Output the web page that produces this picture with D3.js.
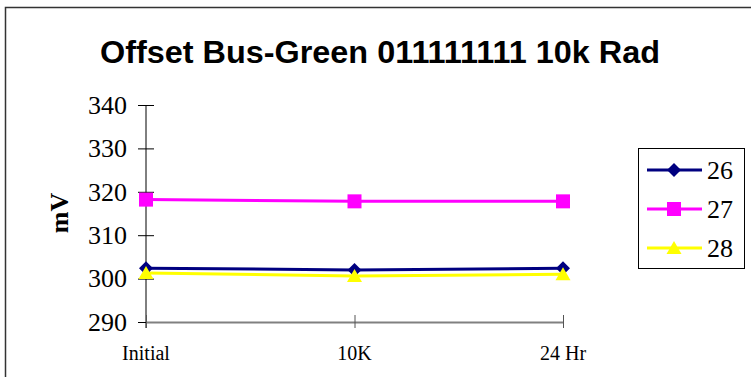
<!DOCTYPE html>
<html><head><meta charset="utf-8">
<script src="https://cdn.jsdelivr.net/npm/d3@7"></script>
<style>body{margin:0;background:#fff}svg{display:block}
.serif{font-family:"Liberation Serif","Times New Roman",Times,serif}</style>
</head><body>
<svg id="c" width="751" height="377"></svg>
<script>
const title = "Offset Bus-Green 011111111 10k Rad";
const categories = ["Initial", "10K", "24 Hr"];
const seriesNames = ["26", "27", "28"];
const s26 = [302.4, 302.0, 302.4];
const s27 = [318.2, 317.8, 317.8];
const s28 = [301.3, 300.6, 301.0];
const yTicks = [290, 300, 310, 320, 330, 340];
const yLabel = "mV";

const colors = ["#000080", "#FF00FF", "#FFFF00"];
const series = [s26, s27, s28];

const svg = d3.select("#c");
svg.append("rect").attr("x", 5.5).attr("y", 7.5).attr("width", 800).attr("height", 400)
  .attr("fill", "#fff").attr("stroke", "#333").attr("stroke-width", 1.5);

svg.append("text").attr("x", 380).attr("y", 63).attr("text-anchor", "middle")
  .attr("font-family", "Liberation Sans, Arial, sans-serif").attr("font-weight", "bold")
  .attr("font-size", 31).attr("textLength", 560).attr("lengthAdjust", "spacingAndGlyphs")
  .text(title);

const x = d3.scalePoint().domain(categories).range([146, 563]);
const y = d3.scaleLinear().domain([290, 340]).range([322, 105]);

// y axis
const yAxis = d3.axisLeft(y).tickValues(yTicks).tickSize(0).tickPadding(0);
const gy = svg.append("g").attr("transform", "translate(146,0)").call(yAxis);
gy.select(".domain").remove();
gy.selectAll(".tick text").remove();
gy.selectAll(".tick").append("line").attr("x1", -8).attr("x2", 8).attr("stroke", "#000").attr("stroke-width", 1);
svg.append("line").attr("x1", 146).attr("x2", 146).attr("y1", y(340)).attr("y2", 328).attr("stroke", "#000");
svg.append("g").selectAll("text").data(yTicks).join("text").attr("class", "serif")
  .attr("x", 127).attr("y", d => y(d) + 8.8).attr("text-anchor", "end")
  .style("font-size", "26px")
  .text(d => d);

// x axis
const xAxis = d3.axisBottom(x).tickSize(0);
const gx = svg.append("g").attr("transform", `translate(0,${y(290)})`).call(xAxis);
gx.select(".domain").attr("stroke", "#808080").attr("stroke-width", 2);
gx.selectAll(".tick text").remove();
gx.selectAll(".tick").append("line").attr("y1", -7).attr("y2", 6).attr("stroke", "#555").attr("stroke-width", 1);
svg.append("g").selectAll("text").data(categories).join("text").attr("class", "serif")
  .attr("x", d => x(d)).attr("y", 360).attr("text-anchor", "middle")
  .style("font-size", "20px")
  .text(d => d);

svg.append("text").attr("class", "serif").attr("transform", "translate(68,213) rotate(-90)").attr("text-anchor", "middle")
  .attr("font-weight", "bold").style("font-size", "26px").text(yLabel);

// markers
function marker(k) {
  if (k === 0) return "M0,-7L7,0L0,7L-7,0Z";
  if (k === 1) return "M-7,-7H7V7H-7Z";
  return "M0,-7L7.5,6L-7.5,6Z";
}

const line = d3.line().x((d, i) => x(categories[i])).y(d => y(d));
series.forEach((s, k) => {
  svg.append("path").datum(s).attr("d", line).attr("fill", "none")
    .attr("stroke", colors[k]).attr("stroke-width", 3);
});
series.forEach((s, k) => {
  svg.append("g").selectAll("path").data(s).join("path")
    .attr("transform", (d, i) => `translate(${x(categories[i])},${y(d)})`)
    .attr("d", marker(k)).attr("fill", colors[k]);
});

// legend
svg.append("rect").attr("x", 638.5).attr("y", 148.5).attr("width", 106).attr("height", 120)
  .attr("fill", "#fff").attr("stroke", "#000").attr("stroke-width", 1);
const ly = [170, 209, 248];
seriesNames.forEach((n, k) => {
  const g = svg.append("g");
  g.append("line").attr("x1", 647).attr("x2", 702).attr("y1", ly[k]).attr("y2", ly[k])
    .attr("stroke", colors[k]).attr("stroke-width", 3);
  g.append("path").attr("transform", `translate(674,${ly[k]})`)
    .attr("d", marker(k)).attr("fill", colors[k]);
  g.append("text").attr("class", "serif").attr("x", 707).attr("y", ly[k] + 9)
    .style("font-size", "26px").text(n);
});
</script>
</body></html>
